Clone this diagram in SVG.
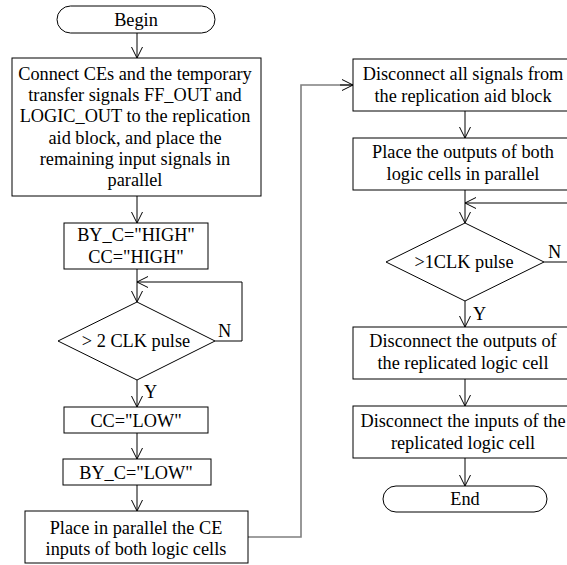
<svg xmlns="http://www.w3.org/2000/svg" width="567" height="565" viewBox="0 0 567 565">
<defs>
<style>
.box{fill:#fff;stroke:#000;stroke-width:1}
.t{font-family:"Liberation Serif","Times New Roman",serif;font-size:18.3px;fill:#000;text-anchor:middle}
.l{font-family:"Liberation Serif","Times New Roman",serif;font-size:18.3px;fill:#000}
.c{fill:none;stroke:#000;stroke-width:1}
.g{fill:none;stroke:#7f7f7f;stroke-width:1.6}
</style>
<marker id="ah" markerUnits="userSpaceOnUse" markerWidth="12" markerHeight="14" refX="11" refY="6" orient="auto" viewBox="0 0 12 12">
<path d="M0,0.5 L11,6 L0,11.5" fill="none" stroke="#000" stroke-width="1"/>
</marker>
</defs>
<rect width="567" height="565" fill="#fff"/>
<g id="connectors">
<line class="c" x1="137" y1="33" x2="137" y2="58" marker-end="url(#ah)"/>
<line class="c" x1="137" y1="196" x2="137" y2="223" marker-end="url(#ah)"/>
<line class="c" x1="137" y1="269" x2="137" y2="302" marker-end="url(#ah)"/>
<polyline class="c" points="215,341 242,341 242,282 137,282" marker-end="url(#ah)"/>
<line class="c" x1="137" y1="380" x2="137" y2="407" marker-end="url(#ah)"/>
<line class="c" x1="137" y1="433" x2="137" y2="459" marker-end="url(#ah)"/>
<line class="c" x1="137" y1="485" x2="137" y2="511" marker-end="url(#ah)"/>
<polyline class="g" points="248,537 301,537 301,85 352,85"/>
<line class="c" x1="340" y1="85" x2="353" y2="85" marker-end="url(#ah)"/>
<line class="c" x1="465" y1="111" x2="465" y2="138" marker-end="url(#ah)"/>
<line class="c" x1="465" y1="190" x2="465" y2="223" marker-end="url(#ah)"/>
<polyline class="c" points="544,262 575,262 575,203 465,203" marker-end="url(#ah)"/>
<line class="c" x1="465" y1="301" x2="465" y2="327" marker-end="url(#ah)"/>
<line class="c" x1="465" y1="379" x2="465" y2="406" marker-end="url(#ah)"/>
<line class="c" x1="465" y1="458" x2="465" y2="486" marker-end="url(#ah)"/>
<text class="l" x="218" y="337">N</text>
<text class="l" x="144" y="398">Y</text>
<text class="l" x="548" y="258">N</text>
<text class="l" x="473" y="320">Y</text>
</g>
<g id="begin">
<rect class="box" x="57" y="6" width="158" height="27" rx="13.5" ry="13.5"/>
<text class="t" x="136" y="26">Begin</text>
</g>
<g id="connect">
<rect class="box" x="12" y="58" width="249" height="138"/>
<text class="t" x="135" y="80">Connect CEs and the temporary</text>
<text class="t" x="135" y="101.2">transfer signals FF_OUT and</text>
<text class="t" x="135" y="122.4">LOGIC_OUT to the replication</text>
<text class="t" x="135" y="143.6">aid block, and place the</text>
<text class="t" x="135" y="164.8">remaining input signals in</text>
<text class="t" x="135" y="186">parallel</text>
</g>
<g id="high">
<rect class="box" x="64" y="223" width="144" height="46"/>
<text class="t" x="136" y="241">BY_C="HIGH"</text>
<text class="t" x="136" y="263">CC="HIGH"</text>
</g>
<g id="clk2">
<polygon class="box" points="137,302 215,341 137,380 58,341"/>
<text class="t" x="136" y="347">&gt; 2 CLK pulse</text>
</g>
<g id="cclow">
<rect class="box" x="64" y="407" width="144" height="26"/>
<text class="t" x="136" y="427">CC="LOW"</text>
</g>
<g id="bylow">
<rect class="box" x="63" y="459" width="148" height="26"/>
<text class="t" x="136" y="479">BY_C="LOW"</text>
</g>
<g id="placece">
<rect class="box" x="25" y="511" width="223" height="52"/>
<text class="t" x="136" y="534">Place in parallel the CE</text>
<text class="t" x="136" y="555">inputs of both logic cells</text>
</g>
<g id="disall">
<rect class="box" x="353" y="59" width="224" height="52"/>
<text class="t" x="463" y="80">Disconnect all signals from</text>
<text class="t" x="463" y="102">the replication aid block</text>
</g>
<g id="placeout">
<rect class="box" x="353" y="138" width="224" height="52"/>
<text class="t" x="463" y="158">Place the outputs of both</text>
<text class="t" x="463" y="180">logic cells in parallel</text>
</g>
<g id="clk1">
<polygon class="box" points="465,223 544,262 465,301 386,262"/>
<text class="t" x="464" y="268">&gt;1CLK pulse</text>
</g>
<g id="disout">
<rect class="box" x="353" y="327" width="224" height="52"/>
<text class="t" x="463" y="347">Disconnect the outputs of</text>
<text class="t" x="463" y="369">the replicated logic cell</text>
</g>
<g id="disin">
<rect class="box" x="353" y="406" width="224" height="52"/>
<text class="t" x="463" y="427">Disconnect the inputs of the</text>
<text class="t" x="463" y="449">replicated logic cell</text>
</g>
<g id="end">
<rect class="box" x="383" y="486" width="164" height="26" rx="13" ry="13"/>
<text class="t" x="465" y="505">End</text>
</g>
</svg>
